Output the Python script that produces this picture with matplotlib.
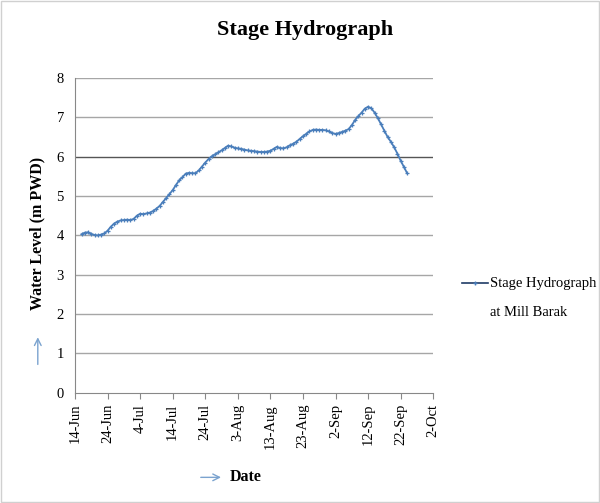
import numpy as np
import matplotlib.pyplot as plt
import matplotlib.dates as mdates
from datetime import date, timedelta

# daily water level (m PWD), 16-Jun to 24-Sep
start = date(2012, 6, 16)
level = [4.03, 4.07, 4.08, 4.04, 4.01, 4.00, 4.02, 4.05, 4.12, 4.22,
         4.30, 4.35, 4.38, 4.39, 4.40, 4.39, 4.42, 4.50, 4.55, 4.54,
         4.56, 4.58, 4.62, 4.68, 4.75, 4.85, 4.95, 5.05, 5.15, 5.28,
         5.40, 5.48, 5.57, 5.59, 5.58, 5.58, 5.65, 5.75, 5.85, 5.94,
         6.01, 6.06, 6.11, 6.16, 6.22, 6.28, 6.26, 6.23, 6.21, 6.20,
         6.18, 6.16, 6.15, 6.14, 6.13, 6.12, 6.12, 6.13, 6.15, 6.20,
         6.25, 6.22, 6.21, 6.24, 6.29, 6.33, 6.38, 6.45, 6.52, 6.58,
         6.64, 6.68, 6.69, 6.68, 6.68, 6.67, 6.64, 6.60, 6.58, 6.60,
         6.63, 6.66, 6.70, 6.80, 6.93, 7.03, 7.12, 7.22, 7.27, 7.23,
         7.12, 6.98, 6.82, 6.66, 6.50, 6.38, 6.24, 6.08, 5.90, 5.74,
         5.58]
dates = [start + timedelta(days=i) for i in range(len(level))]

tick_start = date(2012, 6, 14)
tick_dates = [tick_start + timedelta(days=10 * i) for i in range(12)]
tick_labels = [f"{d.day}-{d.strftime('%b')}" for d in tick_dates]

plt.rcParams['font.family'] = ['Liberation Serif', 'DejaVu Serif']

fig = plt.figure(figsize=(6.0, 5.03), dpi=100)
fig.patches.append(plt.Rectangle((0.002, 0.002), 0.996, 0.996, transform=fig.transFigure,
                                 fill=False, edgecolor='#d0d0d0', linewidth=1))
ax = fig.add_axes([0.125, 0.219, 0.597, 0.626])

ax.plot(dates, level, color='#4a7ebb', linewidth=1.3, marker='+',
        markersize=3.5, markeredgewidth=0.9)

ax.set_ylim(0, 8)
ax.set_yticks(range(0, 9))
ax.set_xlim(tick_dates[0], tick_dates[-1])
ax.set_xticks(tick_dates)
ax.set_xticklabels(tick_labels, rotation=90, fontsize=10.5)
ax.tick_params(axis='y', labelsize=10.5, length=0, pad=8)
ax.tick_params(axis='x', length=4, color='#888888', pad=4)

for y in range(1, 9):
    ax.axhline(y, color='#555555' if y == 6 else '#a6a6a6', linewidth=1, zorder=0)
for s in ['top', 'right']:
    ax.spines[s].set_visible(False)
ax.spines['left'].set_color('#888888')
ax.spines['bottom'].set_color('#888888')

fig.text(0.508, 0.94, 'Stage Hydrograph', ha='center', va='center',
         fontsize=16, fontweight='bold')
fig.text(0.063, 0.535, 'Water Level (m PWD)', rotation=90, ha='center', va='center',
         fontsize=11.5, fontweight='bold')
fig.text(0.383, 0.051, 'Date', ha='left', va='center', fontsize=11.5, fontweight='bold')

# arrows next to the axis titles
fig.patches.append(plt.matplotlib.patches.FancyArrowPatch(
    (0.063, 0.27), (0.063, 0.335), transform=fig.transFigure,
    arrowstyle='->', mutation_scale=12, color='#7ba3cf', linewidth=1))
fig.patches.append(plt.matplotlib.patches.FancyArrowPatch(
    (0.33, 0.051), (0.373, 0.051), transform=fig.transFigure,
    arrowstyle='->', mutation_scale=12, color='#7ba3cf', linewidth=1))

# legend drawn by hand to match the two-line layout
fig.add_artist(plt.Line2D([0.77, 0.813], [0.437, 0.437], transform=fig.transFigure,
                          color='#1f3b66', linewidth=1.2))
fig.add_artist(plt.Line2D([0.7915], [0.437], transform=fig.transFigure,
                          color='#4a7ebb', marker='+', markersize=3.5))
fig.text(0.817, 0.437, 'Stage Hydrograph', ha='left', va='center', fontsize=10.5)
fig.text(0.817, 0.378, 'at Mill Barak', ha='left', va='center', fontsize=10.5)

fig.savefig('out.png', dpi=100)
